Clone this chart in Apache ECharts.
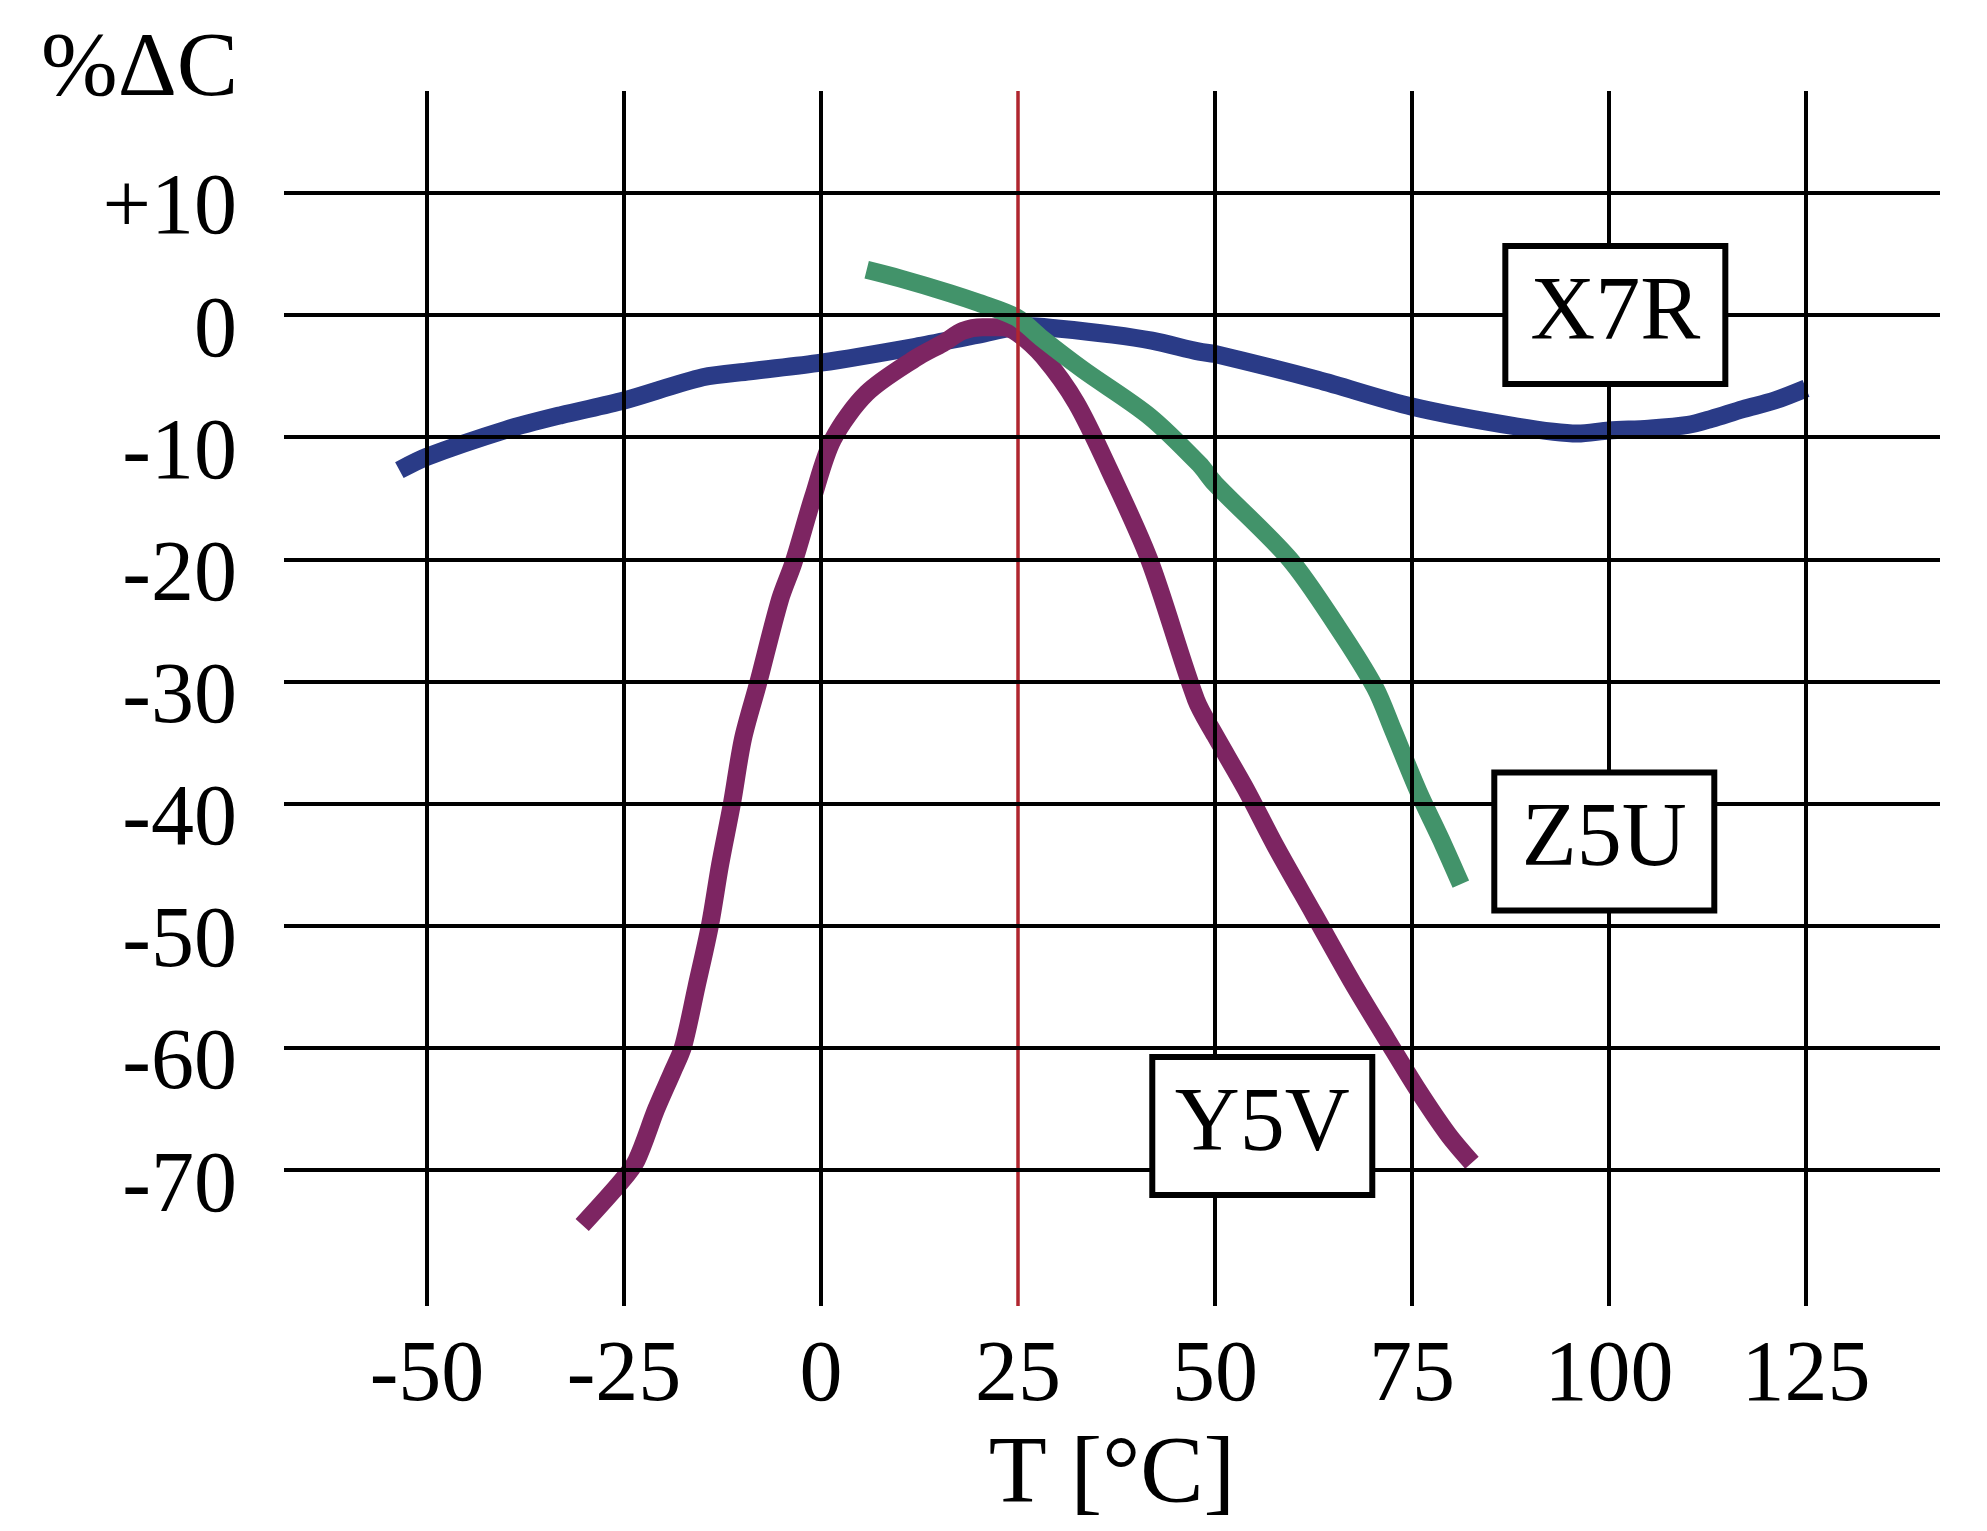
<!DOCTYPE html>
<html>
<head>
<meta charset="utf-8">
<script src="https://cdn.jsdelivr.net/npm/echarts@6/dist/echarts.min.js"></script>
<style>
  html, body { margin: 0; padding: 0; background: #fff; }
  #main { width: 1987px; height: 1531px; }
</style>
</head>
<body>
<div id="main"></div>
<script>
// tick labels / grid positions
var xTicks = [-50, -25, 0, 25, 50, 75, 100, 125];
var yTicks = [10, 0, -10, -20, -30, -40, -50, -60, -70];
var refTemp = 25; // red reference line

// X7R curve
var x7rTemp = [-53.5, -50, -40, -33, -25, -15, -9, 0, 12, 20, 26, 30, 37, 42, 48, 50, 63, 75, 88, 96, 100, 105, 110, 113, 117, 121, 125];
var x7rDelta = [-12.7, -11.6, -9.4, -8.2, -7.0, -5.1, -4.6, -3.9, -2.6, -1.6, -0.9, -1.1, -1.6, -2.1, -3.0, -3.2, -5.3, -7.5, -9.1, -9.7, -9.45, -9.3, -9.0, -8.5, -7.7, -7.0, -6.0];

// Z5U curve
var z5uTemp = [5.8, 10, 16.3, 20, 24.8, 28, 33.3, 41.7, 48, 50, 59.5, 65.5, 70.3, 72.6, 75.8, 79.0, 81.2];
var z5uDelta = [3.7, 3.0, 1.8, 1.0, -0.2, -1.9, -4.5, -8.3, -12.2, -13.8, -20.0, -25.5, -30.5, -34.0, -39.0, -43.4, -46.6];

// Y5V curve
var y5vTemp = [-30.3, -25.3, -23.4, -20.9, -18.8, -17.5, -15.8, -14.1, -12.8, -11.3, -9.9, -8.0, -5.2, -3.5, -1.0, 1.5, 5.8, 12.1, 15.5, 18, 20.5, 23, 25, 28.2, 32.4, 36.6, 41.7, 47.6, 50, 53.9, 57.7, 62.6, 67.4, 71.8, 75.7, 79.6, 82.6];
var y5vDelta = [-74.5, -70.9, -69.2, -65.0, -61.9, -59.9, -55.0, -50.0, -45.0, -40.0, -34.7, -30.2, -23.3, -20.3, -14.9, -10.2, -6.4, -3.5, -2.3, -1.3, -1.0, -1.0, -1.5, -3.4, -7.2, -12.7, -20.1, -31.5, -34.4, -38.8, -43.5, -49.1, -54.6, -59.3, -63.4, -67.1, -69.4];

// label boxes, in data units
var names = ['X7R', 'Z5U', 'Y5V'];
var labelTemp = [100.8, 99.4, 56.0];
var labelDelta = [0, -43.1, -66.4];

var myChart = echarts.init(document.getElementById('main'));

function pairs(xs, ys) {
  return xs.map(function (x, i) { return [x, ys[i]]; });
}

var serif = 'Liberation Serif';

function boxLabel(i) {
  return {
    symbol: 'rect',
    symbolSize: 0,
    silent: true,
    label: {
      show: true,
      position: 'inside',
      formatter: names[i],
      color: '#000',
      fontFamily: serif,
      fontSize: 90,
      backgroundColor: '#fff',
      borderColor: '#000',
      borderWidth: 6,
      width: 214,
      height: 132,
      lineHeight: 136,
      align: 'center',
      verticalAlign: 'middle'
    },
    data: [{ coord: [labelTemp[i], labelDelta[i]] }]
  };
}

var gridLines = [];
xTicks.forEach(function (v) {
  gridLines.push({
    xAxis: v,
    lineStyle: v === refTemp ? { color: '#b0262f', width: 3.5, type: 'solid' } : { color: '#000', width: 4, type: 'solid' }
  });
});
yTicks.forEach(function (v) {
  gridLines.push({ yAxis: v, lineStyle: { color: '#000', width: 4, type: 'solid' } });
});

var option = {
  animation: false,
  backgroundColor: '#fff',
  title: {
    text: '%ΔC',
    left: 36,
    top: 20,
    textStyle: { fontFamily: serif, fontSize: 92, fontWeight: 'normal', color: '#000' }
  },
  grid: { left: 284, right: 47, top: 91, bottom: 225, outerBoundsMode: 'none' },
  xAxis: {
    type: 'value',
    min: -68.14,
    max: 142.0,
    name: 'T [°C]',
    nameLocation: 'middle',
    nameGap: 124,
    nameTextStyle: { fontFamily: serif, fontSize: 95, color: '#000' },
    axisLine: { show: false },
    axisTick: { show: false, customValues: xTicks },
    splitLine: { show: false },
    axisLabel: {
      customValues: xTicks,
      margin: 28,
      fontFamily: serif,
      fontSize: 86,
      color: '#000'
    }
  },
  yAxis: {
    type: 'value',
    min: -81.13,
    max: 18.34,
    axisLine: { show: false },
    axisTick: { show: false, customValues: yTicks },
    splitLine: { show: false },
    axisLabel: {
      customValues: yTicks,
      margin: 47,
      verticalAlign: 'top',
      lineHeight: 36,
      fontFamily: serif,
      fontSize: 86,
      color: '#000',
      formatter: function (v) { return v > 0 ? '+' + v : String(v); }
    }
  },
  series: [
    {
      name: 'grid',
      type: 'line',
      data: [],
      z: 1,
      silent: true,
      markLine: {
        silent: true,
        symbol: ['none', 'none'],
        label: { show: false },
        data: gridLines
      }
    },
    {
      name: 'X7R',
      type: 'line',
      z: 2,
      data: pairs(x7rTemp, x7rDelta),
      smooth: 0.3,
      showSymbol: false,
      lineStyle: { color: '#2a3b87', width: 18, cap: 'butt' },
      markPoint: boxLabel(0)
    },
    {
      name: 'Y5V',
      type: 'line',
      z: 2,
      data: pairs(y5vTemp, y5vDelta),
      smooth: 0.3,
      showSymbol: false,
      lineStyle: { color: '#7d2562', width: 18, cap: 'butt' },
      markPoint: boxLabel(2)
    },
    {
      name: 'Z5U',
      type: 'line',
      z: 2,
      data: pairs(z5uTemp, z5uDelta),
      smooth: 0.3,
      showSymbol: false,
      lineStyle: { color: '#42936a', width: 18, cap: 'butt' },
      markPoint: boxLabel(1)
    }
  ]
};

myChart.setOption(option);
</script>
</body>
</html>
